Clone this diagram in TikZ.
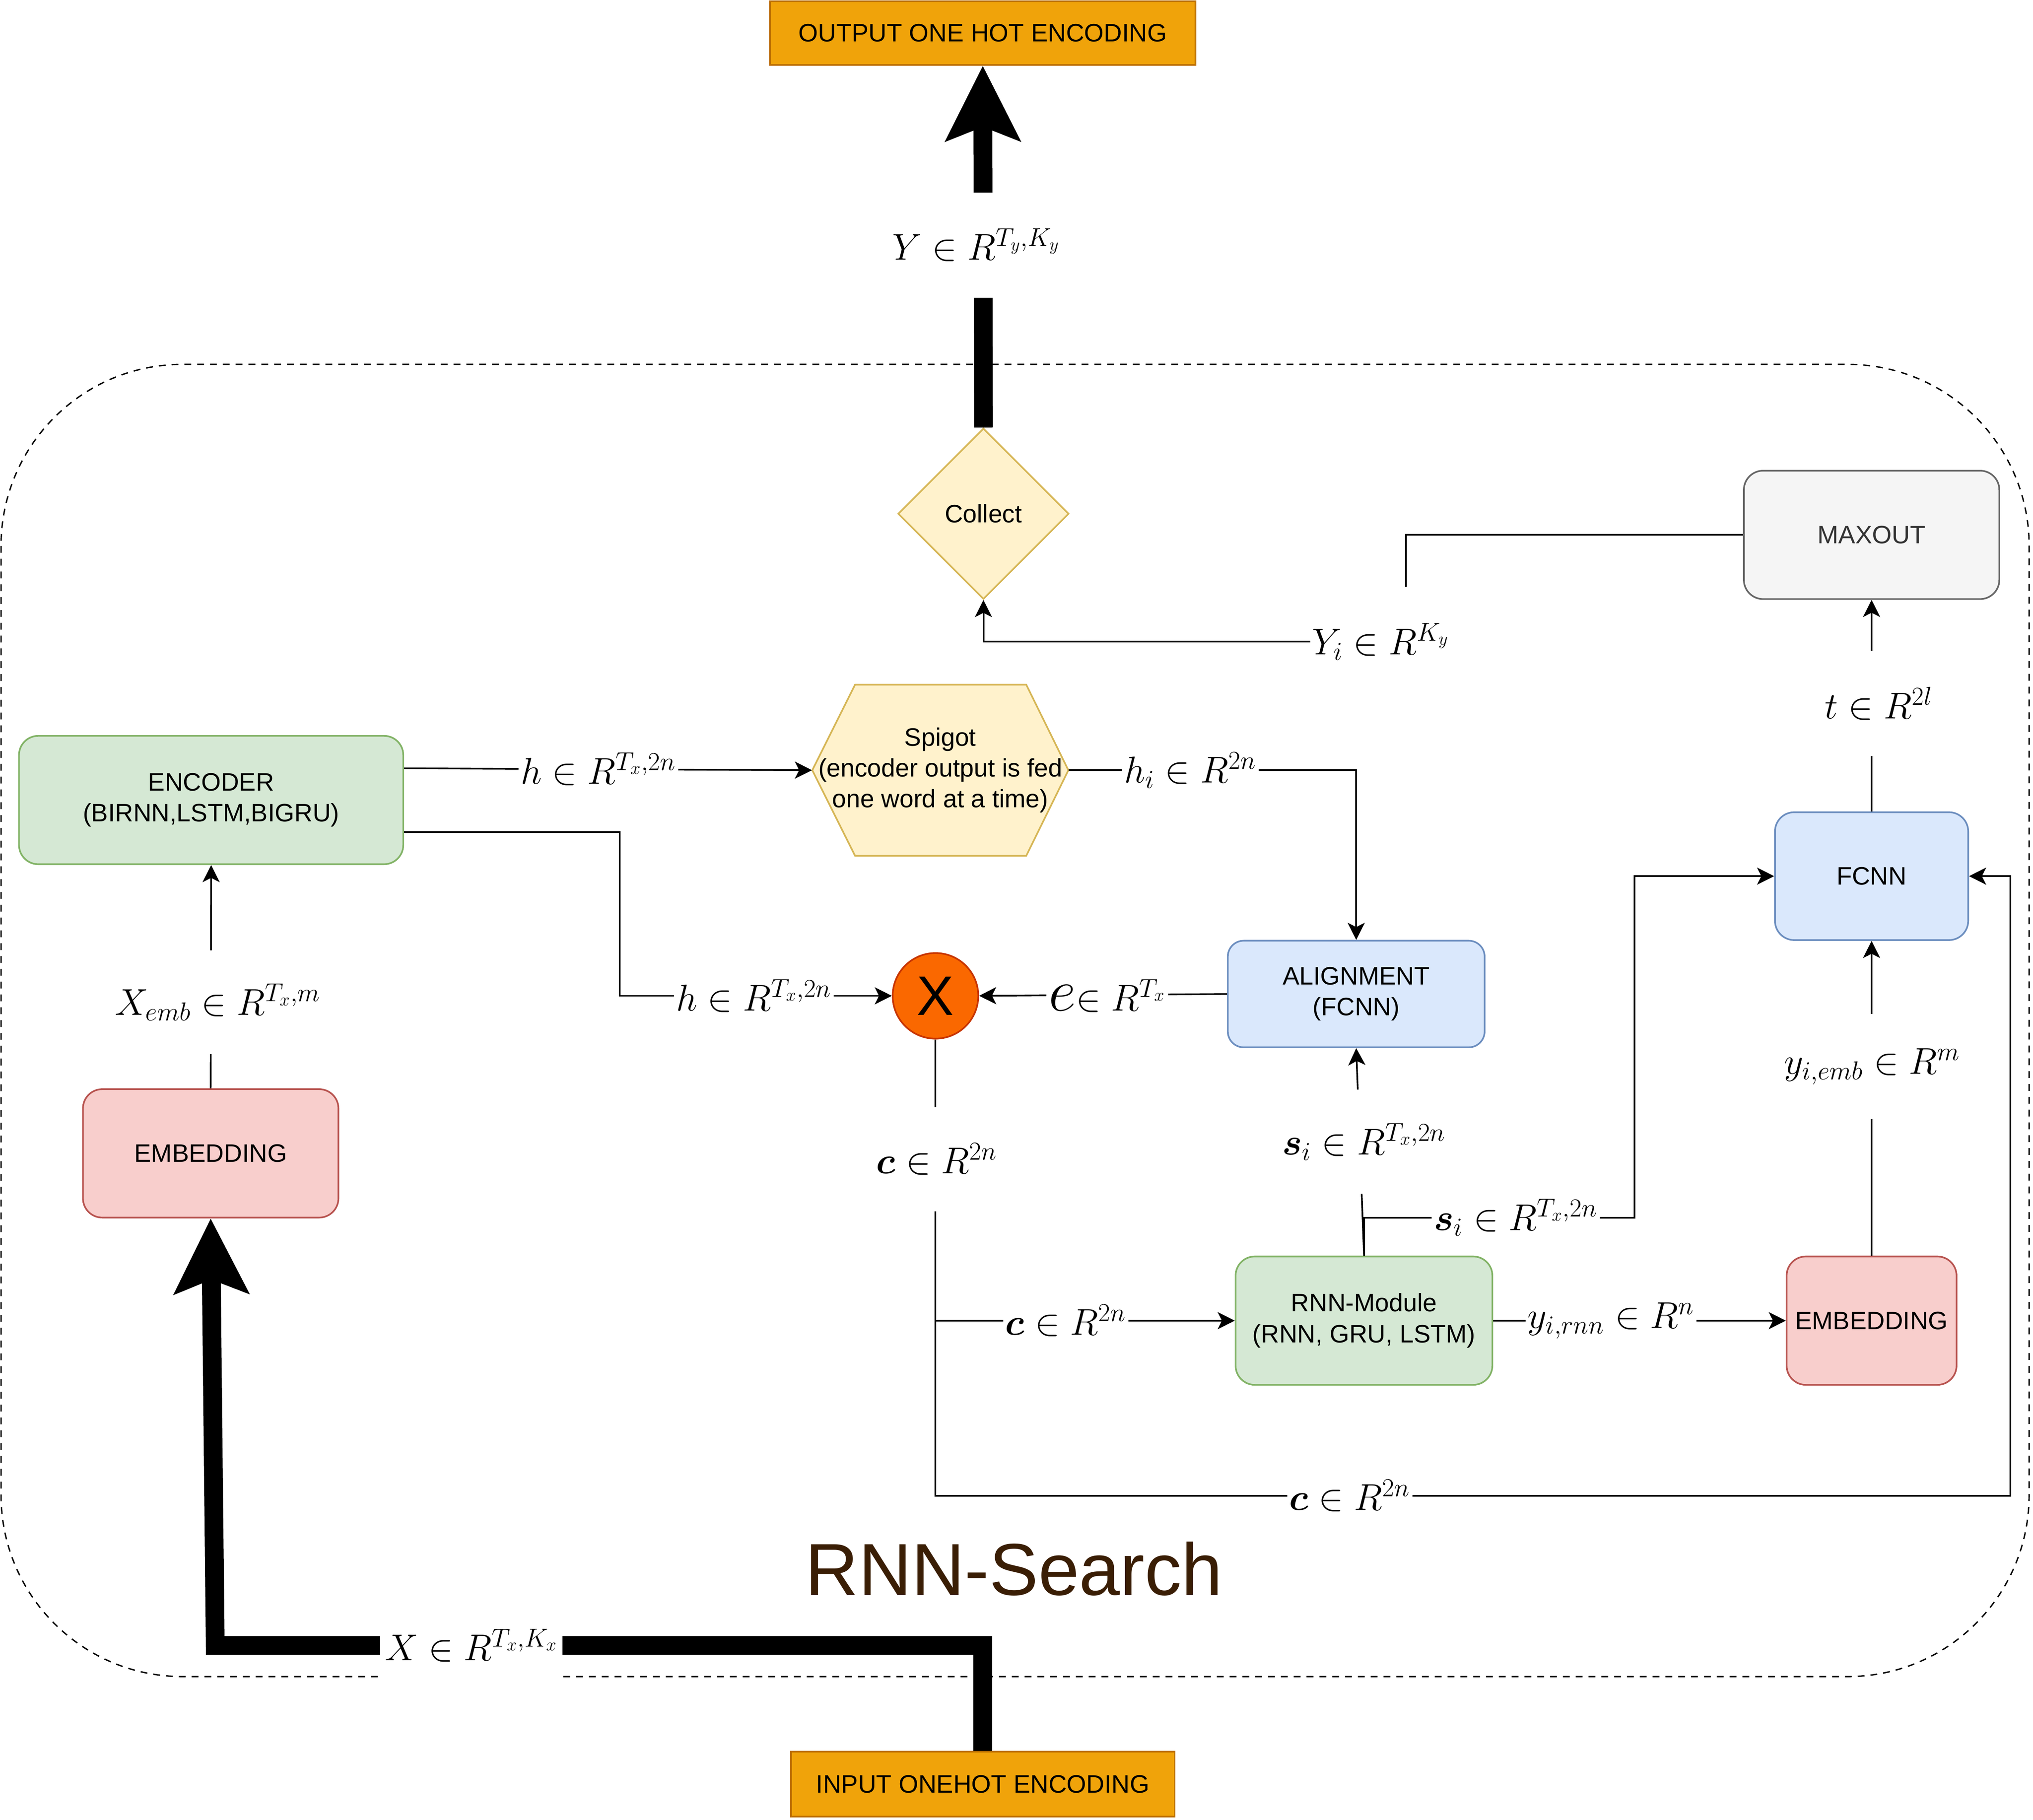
\documentclass[tikz,border=0pt]{standalone}
\usepackage[no-math]{fontspec}
\setmainfont{Liberation Sans}
\usepackage{amsmath}
\usetikzlibrary{arrows.meta,shapes.geometric}
\definecolor{orF}{HTML}{F0A30A}\definecolor{orD}{HTML}{BD7000}
\definecolor{grF}{HTML}{D5E8D4}\definecolor{grD}{HTML}{82B366}
\definecolor{rdF}{HTML}{F8CECC}\definecolor{rdD}{HTML}{B85450}
\definecolor{blF}{HTML}{DAE8FC}\definecolor{blD}{HTML}{6C8EBF}
\definecolor{ylF}{HTML}{FFF2CC}\definecolor{ylD}{HTML}{D6B656}
\definecolor{gyF}{HTML}{F5F5F5}\definecolor{gyD}{HTML}{666666}\definecolor{gyT}{HTML}{333333}
\definecolor{xcF}{HTML}{FA6800}\definecolor{xcD}{HTML}{C73500}
\definecolor{ttl}{HTML}{3A1E05}
\begin{document}
\begin{tikzpicture}[x=0.030357cm, y=-0.030357cm,
  every node/.style={font=\fontsize{16.8}{20.6}\selectfont},
  box/.style={draw, line width=1.1pt, rounded corners=0.45cm, align=center, inner sep=0pt},
  sqbox/.style={draw, line width=1.1pt, align=center, inner sep=0pt, fill=orF, draw=orD},
  edge/.style={line width=1.1pt, -{Stealth[length=0.4cm,width=0.4cm,inset=0.1cm]}},
  fat/.style={line width=12.5pt, line join=miter, -{Stealth[length=1.75cm,width=1.72cm,inset=0.32cm]}},
  lab/.style={fill=white, inner xsep=1.5pt, inner ysep=0pt, font=\fontsize{24}{28}\selectfont},
  container/.style={line width=0.9pt, dash pattern=on 0.16cm off 0.14cm, rounded corners=4.25cm},
]
\useasboundingbox (0,0) rectangle (1568,1403.3);

% container
\draw[container] (0.8,281) rectangle (1565,1293);
\node[font=\fontsize{49}{55}\selectfont, text=ttl] (title) at (782,1210) {RNN-Search};

% nodes
\node[sqbox, minimum width=9.957cm, minimum height=1.487cm] (out) at (758,25.5) {OUTPUT ONE HOT ENCODING};
\node[sqbox, minimum width=8.986cm, minimum height=1.518cm] (inp) at (758,1376) {INPUT ONEHOT ENCODING};
\node[box, fill=grF, draw=grD, minimum width=8.995cm, minimum height=3.005cm] (enc) at (162.85,617) {ENCODER\\(BIRNN,LSTM,BIGRU)};
\node[box, fill=rdF, draw=rdD, minimum width=5.980cm, minimum height=3.005cm] (emb1) at (162.5,889.5) {EMBEDDING};
\node[box, fill=blF, draw=blD, rounded corners=0.37cm, minimum width=6.011cm, minimum height=2.495cm] (align) at (1046,766.6) {ALIGNMENT\\(FCNN)};
\node[box, fill=gyF, draw=gyD, text=gyT, minimum width=5.980cm, minimum height=3.005cm] (maxout) at (1443.5,412.5) {MAXOUT};
\node[box, fill=blF, draw=blD, minimum width=4.523cm, minimum height=2.993cm] (fcnn) at (1443.5,675.7) {FCNN};
\node[box, fill=grF, draw=grD, minimum width=6.011cm, minimum height=3.005cm] (rnn) at (1052,1018.5) {RNN-Module\\(RNN, GRU, LSTM)};
\node[box, fill=rdF, draw=rdD, minimum width=3.977cm, minimum height=3.005cm] (emb2) at (1443.5,1018.5) {EMBEDDING};
\node[diamond, aspect=1, draw=ylD, fill=ylF, line width=1.1pt, inner sep=0pt, minimum width=4.0cm, minimum height=4.0cm] (collect) at (758.5,396.2) {Collect};
\filldraw[fill=ylF, draw=ylD, line width=1.1pt] (626.5,594) -- (659.5,528) -- (791.5,528) -- (824,594) -- (791.5,660) -- (659.5,660) -- cycle;
\node[align=center, inner sep=0pt, minimum width=5.995cm, minimum height=4.007cm] (spig) at (725.25,594) {Spigot\\(encoder output is fed\\one word at a time)};
\node[circle, draw=xcD, fill=xcF, line width=1.1pt, inner sep=0pt, minimum size=2.004cm, font=\fontsize{37}{40}\selectfont] (xc) at (721.5,768) {X};

% connectors
\draw[edge] (emb1.north) -- (enc.south);
\draw[edge] (enc.east |- 0,592.5) -- (spig.west);
\draw[edge] (enc.east |- 0,641.7) -| (478,768) -- (xc.west);
\draw[edge] (spig.east) -| (align.north);
\draw[edge] (align.west) -- (xc.east);
\draw[edge] (xc.south) |- (rnn.west);
\draw[edge] (xc.south) |- (1550.5,1153.5) |- (fcnn.east);
\draw[edge] (rnn.north) -- (align.south);
\draw[edge] (rnn.north) |- (1260.6,939) |- (fcnn.west);
\draw[edge] (rnn.east) -- (emb2.west);
\draw[edge] (emb2.north) -- (fcnn.south);
\draw[edge] (fcnn.north) -- (maxout.south);
\draw[edge] (maxout.west) -| (1084.5,494.8) -| (collect.south);
\draw[fat] (collect.north) -- (out.south);
\draw[fat] (inp.north) |- (166,1269) -- (emb1.south);

% labels
\node[lab, minimum height=2.46cm] (lY) at (753,189) {$Y \in R^{T_y,K_y}$};
\node[lab, minimum height=2.43cm] (lXemb) at (168,773) {$X_{emb} \in R^{T_x,m}$};
\node[lab] (lh1) at (461.5,593) {$h \in R^{T_x,2n}$};
\node[lab] (lh2) at (581.5,768) {$h \in R^{T_x,2n}$};
\node[lab] (lhi) at (918,594) {$h_i \in R^{2n}$};
\node[lab] (le) at (854,768) {\scalebox{1.6}{$e$}$\in R^{T_x}$};
\node[lab, minimum height=2.43cm] (lc1) at (722.5,894) {$\boldsymbol{c} \in R^{2n}$};
\node[lab] (lc2) at (822,1018.5) {$\boldsymbol{c} \in R^{2n}$};
\node[lab] (lc3) at (1041,1153.5) {$\boldsymbol{c} \in R^{2n}$};
\node[lab, minimum height=2.44cm] (ls1) at (1052,880.5) {$\boldsymbol{s}_i \in R^{T_x,2n}$};
\node[lab] (ls2) at (1169,939) {$\boldsymbol{s}_i \in R^{T_x,2n}$};
\node[lab] (lyrnn) at (1242.5,1018.5) {$y_{i,rnn} \in R^{n}$};
\node[lab, minimum height=2.46cm] (lyemb) at (1444,822.5) {$y_{i,emb} \in R^{m}$};
\node[lab, minimum height=2.46cm] (lt) at (1449,542.5) {$t \in R^{2l}$};
\node[lab, minimum height=2.57cm] (lYi) at (1065,494.8) {$Y_i \in R^{K_y}$};
\node[lab, inner xsep=3pt, minimum height=1.85cm] (lX) at (363.5,1269) {$X \in R^{T_x,K_x}$};
\end{tikzpicture}
\end{document}
